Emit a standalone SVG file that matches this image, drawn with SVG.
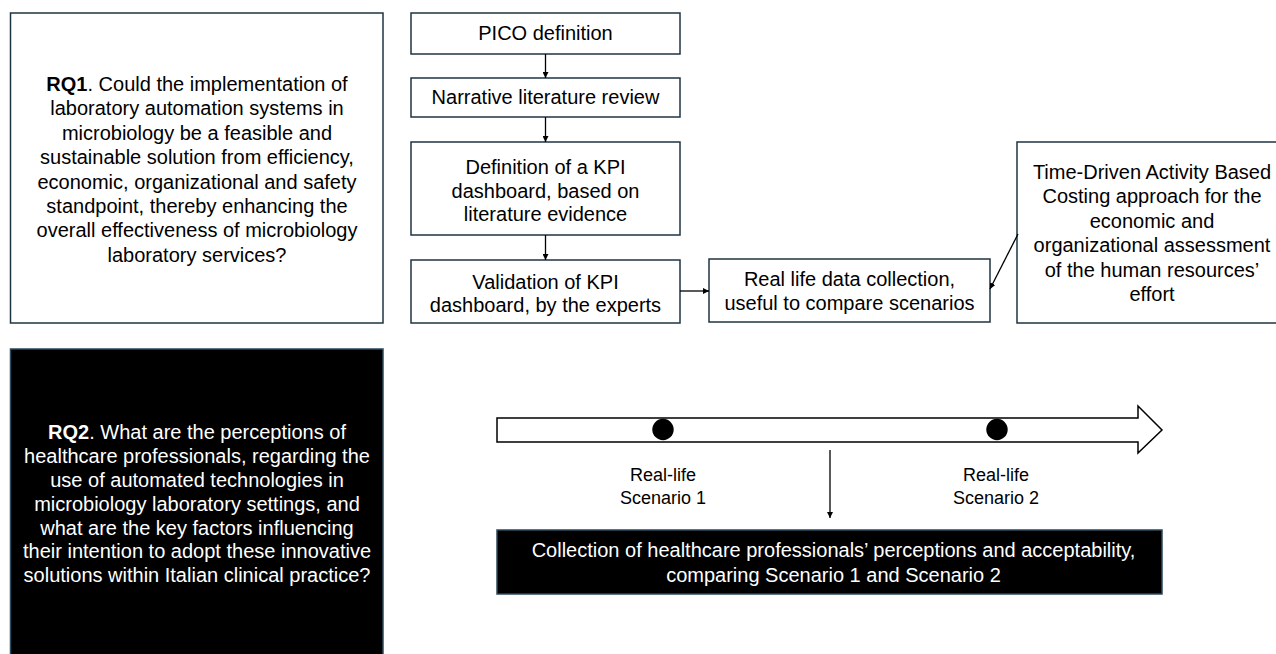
<svg xmlns="http://www.w3.org/2000/svg" width="1276" height="654" viewBox="0 0 1276 654">
<defs>
<style>
.box{fill:#ffffff;stroke:#1f3442;stroke-width:1.5}
.dark{fill:#000000;stroke:#2c4a5c;stroke-width:1.5}
.t{font-family:"Liberation Sans",Arial,sans-serif;font-size:20px;fill:#000;text-anchor:middle}
.w{fill:#ffffff}
.s{font-size:18px}
.c{stroke:#000;stroke-width:1.3;fill:none}
</style>
<marker id="ah" viewBox="0 0 10 10" refX="10" refY="5" markerWidth="6" markerHeight="6" markerUnits="userSpaceOnUse" orient="auto">
<path d="M0,0 L10,5 L0,10 z" fill="#000"/>
</marker>
</defs>
<rect width="1276" height="654" fill="#ffffff"/>

<g id="rq1">
<rect class="box" x="10.5" y="13" width="372.5" height="310"/>
<text class="t" x="197" y="91"><tspan font-weight="bold">RQ1</tspan>. Could the implementation of</text>
<text class="t" x="197" y="115.4">laboratory automation systems in</text>
<text class="t" x="197" y="139.8">microbiology be a feasible and</text>
<text class="t" x="197" y="164.2">sustainable solution from efficiency,</text>
<text class="t" x="197" y="188.6">economic, organizational and safety</text>
<text class="t" x="197" y="213">standpoint, thereby enhancing the</text>
<text class="t" x="197" y="237.4">overall effectiveness of microbiology</text>
<text class="t" x="197" y="261.8">laboratory services?</text>
</g>

<g id="pico">
<rect class="box" x="411" y="13" width="269" height="41"/>
<text class="t" x="545.5" y="40">PICO definition</text>
</g>
<g id="narrative">
<rect class="box" x="411" y="78" width="269" height="39"/>
<text class="t" x="545.5" y="104">Narrative literature review</text>
</g>
<g id="kpi-def">
<rect class="box" x="411" y="142" width="269" height="93"/>
<text class="t" x="545.5" y="174">Definition of a KPI</text>
<text class="t" x="545.5" y="197.5">dashboard, based on</text>
<text class="t" x="545.5" y="221">literature evidence</text>
</g>
<g id="kpi-val">
<rect class="box" x="411" y="260" width="269" height="63"/>
<text class="t" x="545.5" y="289">Validation of KPI</text>
<text class="t" x="545.5" y="312">dashboard, by the experts</text>
</g>
<g id="reallife">
<rect class="box" x="709" y="259" width="281" height="63"/>
<text class="t" x="849.5" y="286">Real life data collection,</text>
<text class="t" x="849.5" y="310">useful to compare scenarios</text>
</g>
<g id="tdabc">
<rect class="box" x="1017" y="142" width="300" height="181"/>
<text class="t" x="1152" y="179">Time-Driven Activity Based</text>
<text class="t" x="1152" y="203.4">Costing approach for the</text>
<text class="t" x="1152" y="227.8">economic and</text>
<text class="t" x="1152" y="252.2">organizational assessment</text>
<text class="t" x="1152" y="276.6">of the human resources’</text>
<text class="t" x="1152" y="301">effort</text>
</g>

<g id="rq2">
<rect class="dark" x="10.5" y="349" width="372.5" height="320"/>
<text class="t w" x="197" y="439"><tspan font-weight="bold">RQ2</tspan>. What are the perceptions of</text>
<text class="t w" x="197" y="463">healthcare professionals, regarding the</text>
<text class="t w" x="197" y="487">use of automated technologies in</text>
<text class="t w" x="197" y="511">microbiology laboratory settings, and</text>
<text class="t w" x="197" y="535">what are the key factors influencing</text>
<text class="t w" x="197" y="558">their intention to adopt these innovative</text>
<text class="t w" x="197" y="582">solutions within Italian clinical practice?</text>
</g>

<g id="timeline">
<path d="M497,418 H1138 V406 L1162,430 L1138,453 V442 H497 Z" fill="#ffffff" stroke="#000" stroke-width="1.5"/>
<circle cx="663" cy="429.5" r="10.7" fill="#000"/>
<circle cx="997" cy="429.5" r="10.7" fill="#000"/>
</g>
<g id="scenario1">
<text class="t s" x="663" y="481">Real-life</text>
<text class="t s" x="663" y="504">Scenario 1</text>
</g>
<g id="scenario2">
<text class="t s" x="996" y="481">Real-life</text>
<text class="t s" x="996" y="504">Scenario 2</text>
</g>
<g id="collection">
<rect class="dark" x="497" y="530" width="665" height="64"/>
<text class="t w" x="833.5" y="557" font-size="20.5">Collection of healthcare professionals’ perceptions and acceptability,</text>
<text class="t w" x="833.5" y="582" font-size="20.5">comparing Scenario 1 and Scenario 2</text>
</g>

<g id="connectors">
<line class="c" x1="545.5" y1="54" x2="545.5" y2="78" marker-end="url(#ah)"/>
<line class="c" x1="545.5" y1="117" x2="545.5" y2="142" marker-end="url(#ah)"/>
<line class="c" x1="545.5" y1="235" x2="545.5" y2="260" marker-end="url(#ah)"/>
<line class="c" x1="680" y1="291" x2="709" y2="291" marker-end="url(#ah)"/>
<line class="c" x1="1018" y1="234" x2="990" y2="289" marker-end="url(#ah)"/>
<line class="c" x1="830" y1="450" x2="830" y2="518" marker-end="url(#ah)"/>
</g>
</svg>
